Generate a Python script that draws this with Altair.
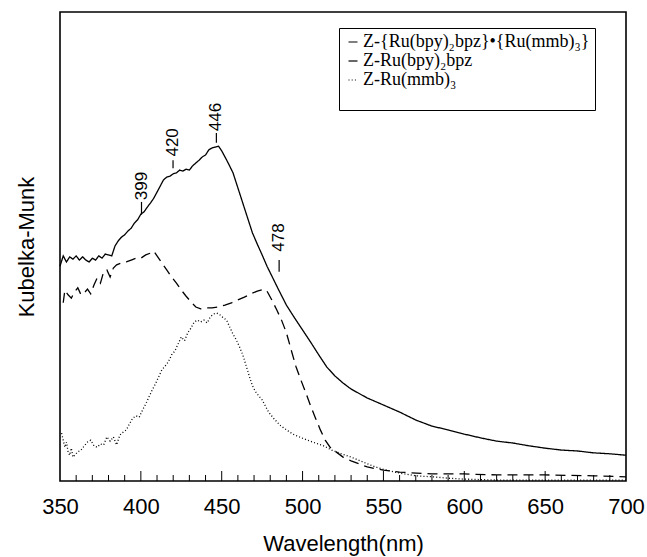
import altair as alt
import pandas as pd

# ---------------- data ----------------
series_names = ["Z-{Ru(bpy)₂bpz}•{Ru(mmb)₃}", "Z-Ru(bpy)₂bpz", "Z-Ru(mmb)₃"]

wl_solid = [350, 352, 354, 356, 358, 360, 362, 364, 366, 368, 370, 372, 374, 376, 378,
            380, 382, 384, 386, 388, 390, 392, 394, 396, 398, 400, 402, 404, 406, 408,
            410, 412, 414, 416, 418, 420, 422, 424, 426, 428, 430, 432, 434, 436, 438,
            440, 442, 444, 446, 448, 450, 452, 454, 457, 460, 463, 466, 469, 472, 475,
            478, 481, 485, 490, 495, 500, 505, 510, 515, 520, 525, 530, 540, 550, 560,
            570, 580, 590, 600, 610, 620, 630, 640, 650, 660, 670, 680, 690, 700]
km_solid = [45.8, 48.0, 46.7, 47.8, 47.3, 48.0, 47.1, 47.8, 47.1, 46.7, 47.5, 47.1, 48.0, 47.5, 48.4,
            48.2, 48.0, 50.1, 51.2, 52.0, 52.5, 53.3, 53.9, 55.0, 55.7, 56.9, 57.4, 58.4, 59.3, 60.3,
            61.6, 62.9, 64.2, 64.8, 65.0, 65.5, 65.7, 66.3, 66.1, 66.5, 66.3, 67.2, 67.8, 68.4, 69.1,
            69.5, 70.6, 71.0, 71.2, 71.4, 70.4, 69.1, 67.8, 65.7, 62.5, 59.3, 56.1, 52.9, 50.5, 48.2,
            45.8, 43.7, 40.9, 37.5, 34.8, 32.2, 29.6, 26.9, 24.3, 22.4, 20.9, 19.6, 17.7, 16.2, 14.7,
            13.0, 11.7, 10.9, 10.0, 9.2, 8.5, 8.1, 7.5, 7.0, 6.6, 6.4, 6.0, 5.8, 5.5]

wl_dash = [352, 353, 355, 357, 359, 361, 363, 365, 367, 369, 371, 373, 375, 377, 379,
           381, 383, 385, 388, 391, 394, 397, 400, 403, 406, 408, 410, 413, 416, 419,
           422, 425, 428, 431, 434, 437, 440, 444, 448, 452, 456, 460, 464, 468, 472,
           476, 478, 481, 484, 487, 490, 493, 496, 499, 502, 505, 508, 511, 514, 517,
           520, 525, 530, 540, 550, 560, 580, 600, 620, 650, 680, 700]
km_dash = [38.0, 40.7, 39.7, 39.0, 40.3, 41.2, 39.7, 40.1, 40.9, 39.9, 41.8, 43.3, 42.2, 44.6, 45.0,
           43.5, 45.4, 46.1, 46.5, 46.7, 47.1, 47.5, 47.5, 48.2, 48.6, 49.0, 48.0, 46.5, 45.0, 43.5,
           42.2, 40.7, 39.4, 38.2, 37.1, 36.7, 36.9, 36.9, 37.1, 37.5, 38.0, 38.6, 39.2, 39.9, 40.5,
           40.9, 40.5, 38.6, 36.5, 34.3, 31.6, 27.9, 24.3, 21.5, 18.8, 16.0, 13.4, 10.9, 8.7, 7.2,
           6.4, 5.1, 4.3, 3.0, 2.3, 1.9, 1.5, 1.5, 1.3, 1.3, 1.1, 0.9]

wl_dot = [351, 352, 353, 354, 355, 356, 357, 358, 359, 361, 363, 365, 367, 369, 371,
          373, 375, 377, 379, 381, 383, 385, 387, 389, 391, 393, 395, 397, 399, 401,
          403, 405, 407, 409, 411, 413, 415, 417, 419, 421, 423, 425, 427, 429, 431,
          433, 435, 437, 439, 441, 443, 445, 447, 449, 451, 453, 455, 457, 459, 461,
          463, 465, 467, 469, 471, 473, 475, 477, 479, 482, 486, 490, 494, 498, 503,
          508, 513, 518, 524, 530, 537, 545, 552, 560, 570, 580, 590, 600, 620, 650, 700]
km_dot = [10.2, 8.7, 7.2, 8.3, 6.2, 5.5, 7.0, 5.1, 5.5, 6.2, 6.6, 7.5, 8.3, 8.7, 7.5,
          7.2, 7.9, 7.7, 9.4, 8.5, 9.4, 7.7, 9.8, 10.4, 10.9, 12.2, 13.4, 13.9, 13.6, 15.1,
          16.4, 17.9, 19.4, 20.7, 22.2, 23.7, 24.5, 25.4, 26.9, 27.7, 29.2, 30.7, 29.9, 31.6, 32.6,
          33.9, 34.3, 33.9, 34.3, 33.7, 35.0, 35.6, 35.8, 35.4, 34.8, 34.3, 32.8, 31.3, 30.1, 28.6,
          26.9, 24.7, 22.4, 20.3, 19.0, 18.1, 17.3, 16.0, 14.7, 13.4, 11.9, 10.9, 10.0, 9.4, 8.7,
          8.1, 7.5, 6.6, 5.8, 5.1, 4.1, 3.0, 2.3, 1.7, 1.1, 0.9, 0.6, 0.4, 0.2, 0.2, 0.2]

x_ticks = [350, 400, 450, 500, 550, 600, 650, 700]
minor_ticks = [360, 370, 380, 390, 410, 420, 430, 440, 460, 470, 480, 490, 510, 520, 530,
               540, 560, 570, 580, 590, 610, 620, 630, 640, 660, 670, 680, 690]
major_ticks = [400, 450, 500, 550, 600, 650]

peak_labels = ["399", "420", "446", "478"]
peak_wl = [400.4, 419.9, 446.7, 485.5]
peak_tick_lo = [56.8, 66.7, 72.1, 44.6]
peak_tick_hi = [59.5, 68.4, 74.2, 47.1]
peak_text_y = [62.9, 72.2, 77.6, 51.9]

# ---------------- tables ----------------
rows = []
for name, wls, vals in zip(series_names, [wl_solid, wl_dash, wl_dot], [km_solid, km_dash, km_dot]):
    for w, v in zip(wls, vals):
        rows.append({"series": name, "wl": w, "km": v})
df = pd.DataFrame(rows)

peaks = pd.DataFrame({"label": peak_labels, "wl": peak_wl, "lo": peak_tick_lo,
                      "hi": peak_tick_hi, "ty": peak_text_y})

xscale = alt.Scale(domain=[350, 700], nice=False, zero=False)
yscale = alt.Scale(domain=[0, 100], nice=False, zero=False)

SANS = "Liberation Sans"

x_axis = alt.Axis(values=x_ticks, format="d", labelFont=SANS, labelFontSize=22,
                  labelColor="black", labelBaseline="alphabetic", labelPadding=32,
                  labelFlush=False, labelOverlap=False,
                  ticks=False, tickSize=0, domain=False, grid=False,
                  title="Wavelength(nm)", titleFont=SANS, titleFontSize=22,
                  titleFontWeight="normal", titleColor="black",
                  titleBaseline="alphabetic", titleY=69)
y_axis = alt.Axis(labels=False, ticks=False, tickSize=0, domain=False, grid=False,
                  title="Kubelka-Munk", titleFont=SANS, titleFontSize=22,
                  titleFontWeight="normal", titleColor="black", titleAngle=270,
                  titleBaseline="alphabetic", titleAlign="center", titleX=-27, titleY=234.5)

X = alt.X("wl:Q", scale=xscale, axis=x_axis, title="Wavelength(nm)")

lines = alt.Chart(df).mark_line(color="black", strokeWidth=1.3).encode(
    x=X,
    y=alt.Y("km:Q", scale=yscale, axis=y_axis, title="Kubelka-Munk"),
    strokeDash=alt.StrokeDash(
        "series:N",
        scale=alt.Scale(domain=series_names, range=[[1, 0], [10, 6], [1, 2.2]]),
        legend=alt.Legend(orient="none", legendX=279, legendY=16,
                          title=" ", titleOrient="bottom", titleFontSize=14, titlePadding=2,
                          labelFont="Liberation Serif", labelFontSize=18, labelColor="black",
                          labelLimit=400, labelOffset=1,
                          symbolType="stroke", symbolSize=81, symbolStrokeColor="black",
                          symbolStrokeWidth=1.2, rowPadding=1,
                          strokeColor="black", fillColor="white", padding=5),
    ),
)

minor = alt.Chart(pd.DataFrame({"wl": minor_ticks})).mark_rule(color="black", strokeWidth=1).encode(
    x=X, y=alt.value(469), y2=alt.value(463))
major = alt.Chart(pd.DataFrame({"wl": major_ticks})).mark_rule(color="black", strokeWidth=1).encode(
    x=X, y=alt.value(469), y2=alt.value(459))

peak_ticks = alt.Chart(peaks).mark_rule(color="black", strokeWidth=1.2).encode(
    x=X,
    y=alt.Y("lo:Q", scale=yscale, axis=y_axis, title="Kubelka-Munk"),
    y2="hi:Q")
peak_text = alt.Chart(peaks).mark_text(angle=270, font=SANS, fontSize=17, color="black",
                                       align="center", baseline="middle").encode(
    x=X,
    y=alt.Y("ty:Q", scale=yscale, axis=y_axis, title="Kubelka-Munk"),
    text="label:N")

chart = alt.layer(lines, minor, major, peak_ticks, peak_text).properties(
    width=566, height=469,
    padding={"left": 60, "top": 12, "right": 21, "bottom": 76},
    autosize=alt.AutoSizeParams(type="none"),
    background="white",
).configure_view(stroke="black", strokeWidth=1.6)

chart.save("out.html", embed_options={"renderer": "svg", "actions": False})
